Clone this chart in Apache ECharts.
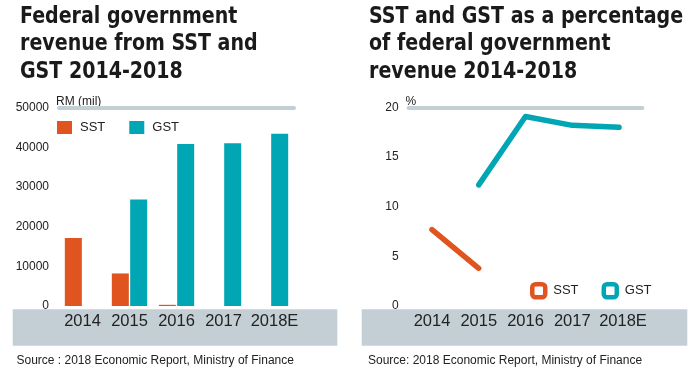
<!DOCTYPE html>
<html>
<head>
<meta charset="utf-8">
<script src="https://cdn.jsdelivr.net/npm/echarts@6/dist/echarts.min.js"></script>
<style>
html,body{margin:0;padding:0;background:#fff;}
#c{width:700px;height:372px;}
</style>
</head>
<body>
<div id="c"></div>
<script>
const categories = ['2014', '2015', '2016', '2017', '2018E'];
const sstRevenue = [17100, 8200, 300, null, null];
const gstRevenue = [null, 26800, 40800, 41000, 43400];
const sstPct = [7.7, 3.8, null, null, null];
const gstPct = [null, 12.2, 19.1, 18.2, 18.0];
const leftTicks = { min: 0, max: 50000, interval: 10000 };
const rightTicks = { min: 0, max: 20, interval: 5 };

const ORANGE = '#e0541f';
const TEAL = '#00a6b4';
const GRAY = '#c3cfd5';
const TXT = '#222';
const base = 'Liberation Sans, Arial, Helvetica, sans-serif';
const titleFont = '"Liberation Sans Narrow", "Arial Narrow", "DejaVu Sans Condensed", "Liberation Sans", sans-serif';

const chart = echarts.init(document.getElementById('c'), null, { renderer: 'canvas' });

// the estimate label ("E" suffix) sits a little right of its slot in the reference
const catData = categories.map((c) => /E$/.test(c) ? { value: c, textStyle: { padding: [0, 0, 0, 8] } } : c);

const yAxisCommon = (t, name) => ({
  type: 'value', min: t.min, max: t.max, interval: t.interval,
  name: name, nameLocation: 'end', nameGap: 6,
  nameTextStyle: { color: TXT, fontSize: 12, fontFamily: base, align: 'left', verticalAlign: 'middle', padding: [0, 0, 0, -3] },
  axisLine: { show: false }, axisTick: { show: false }, splitLine: { show: false },
  axisLabel: { color: TXT, fontSize: 12, fontFamily: base, margin: 10, formatter: (v) => String(v) }
});

const xAxisCommon = (gi) => ({
  type: 'category', data: catData, gridIndex: gi,
  axisLine: { show: false }, axisTick: { show: false },
  axisLabel: { color: TXT, fontSize: 16.5, fontFamily: base, margin: 7, interval: 0 }
});
const topAxis = (gi) => ({
  type: 'category', data: categories, gridIndex: gi, position: 'top',
  axisLine: { show: true, lineStyle: { color: GRAY, width: 4 } },
  axisTick: { show: false }, axisLabel: { show: false }
});

const titleStyle = (text) => ({
  text: text, fontFamily: titleFont, fontWeight: 'bold', fontSize: 23, lineHeight: 27.5, fill: '#1a1a1a'
});

chart.setOption({
  backgroundColor: '#fff',
  animation: false,
  title: [
    { text: 'Source : 2018 Economic Report, Ministry of Finance', left: 16.5, top: 355, padding: 0,
      textStyle: { fontFamily: base, fontWeight: 'normal', fontSize: 12, color: TXT } },
    { text: 'Source: 2018 Economic Report, Ministry of Finance', left: 368, top: 355, padding: 0,
      textStyle: { fontFamily: base, fontWeight: 'normal', fontSize: 12, color: TXT } }
  ],
  graphic: [
    { type: 'rect', z: -1, shape: { x: 12.7, y: 309.3, width: 324.6, height: 36.4 }, style: { fill: GRAY } },
    { type: 'rect', z: -1, shape: { x: 361.7, y: 309.3, width: 325.6, height: 36.4 }, style: { fill: GRAY } },
    { type: 'text', x: 20, y: 3, scaleX: 0.92,
      style: titleStyle('Federal government\nrevenue from SST and\nGST 2014-2018') },
    { type: 'text', x: 369, y: 3, scaleX: 0.92,
      style: titleStyle('SST and GST as a percentage\nof federal government\nrevenue 2014-2018') }
  ],
  legend: [
    { left: 57, top: 121, padding: 0, itemWidth: 15, itemHeight: 13, itemGap: 24, icon: 'rect',
      data: ['SST', 'GST'], selectedMode: false,
      textStyle: { color: TXT, fontSize: 13, fontFamily: base, padding: [0, 0, 0, 3] } },
    { left: 530, top: 282, padding: 0, itemWidth: 13, itemHeight: 13, itemGap: 23, icon: 'roundRect',
      selectedMode: false,
      data: [
        { name: 'SST', itemStyle: { color: '#fff', borderColor: ORANGE, borderWidth: 4.5 } },
        { name: 'GST', itemStyle: { color: '#fff', borderColor: TEAL, borderWidth: 4.5 } }
      ],
      textStyle: { color: TXT, fontSize: 13, fontFamily: base, padding: [0, 0, 0, 3] } }
  ],
  grid: [
    { left: 59, right: 700 - 294, top: 107.5, bottom: 66 },
    { left: 408.6, right: 700 - 642.4, top: 107.5, bottom: 66 }
  ],
  xAxis: [xAxisCommon(0), xAxisCommon(1), topAxis(0), topAxis(1)],
  yAxis: [
    Object.assign(yAxisCommon(leftTicks, 'RM (mil)'), { gridIndex: 0 }),
    Object.assign(yAxisCommon(rightTicks, '%'), { gridIndex: 1 })
  ],
  series: [
    { name: 'SST', type: 'bar', xAxisIndex: 0, yAxisIndex: 0, data: sstRevenue,
      barWidth: 17, barGap: '8%', itemStyle: { color: ORANGE } },
    { name: 'GST', type: 'bar', xAxisIndex: 0, yAxisIndex: 0, data: gstRevenue,
      barWidth: 17, barGap: '8%', itemStyle: { color: TEAL } },
    { name: 'SST', type: 'line', xAxisIndex: 1, yAxisIndex: 1, data: sstPct,
      showSymbol: false, symbol: 'none', itemStyle: { color: ORANGE },
      lineStyle: { color: ORANGE, width: 5.5, cap: 'round', join: 'round' } },
    { name: 'GST', type: 'line', xAxisIndex: 1, yAxisIndex: 1, data: gstPct,
      showSymbol: false, symbol: 'none', itemStyle: { color: TEAL },
      lineStyle: { color: TEAL, width: 5.5, cap: 'round', join: 'round' } }
  ]
});
</script>
</body>
</html>
